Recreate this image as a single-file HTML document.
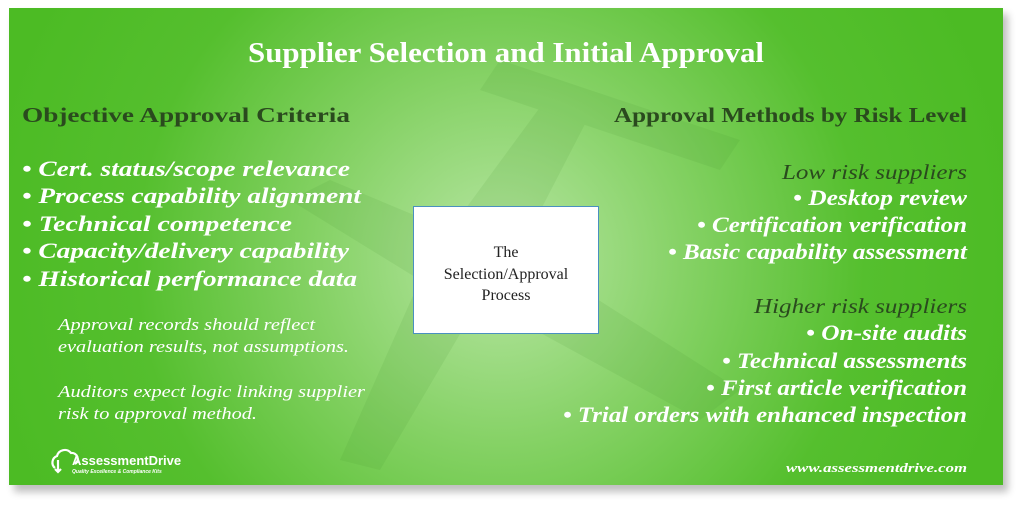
<!DOCTYPE html>
<html><head><meta charset="utf-8"><style>
html,body{margin:0;padding:0;background:#fff;width:1024px;height:506px;overflow:hidden}
</style></head><body>
<svg width="1024" height="506" viewBox="0 0 1024 506" xmlns="http://www.w3.org/2000/svg" font-family="Liberation Serif, serif">
<defs>
<radialGradient id="g" cx="500" cy="260" r="520" gradientUnits="userSpaceOnUse">
<stop offset="0" stop-color="#b8e6a4"/>
<stop offset="0.35" stop-color="#86d266"/>
<stop offset="0.7" stop-color="#55bf2e"/>
<stop offset="1" stop-color="#4cbb24"/>
</radialGradient>
<filter id="s" x="-5%" y="-5%" width="110%" height="115%"><feGaussianBlur stdDeviation="4"/></filter>
</defs>
<rect x="14" y="14" width="994" height="478" fill="#000" opacity="0.25" filter="url(#s)"/>
<rect x="9" y="8" width="994" height="477" fill="url(#g)"/>
<g fill="#3f8a2a" opacity="0.1">
<path d="M560 80 L600 95 L520 250 L740 390 L700 420 L480 300 L380 470 L340 460 L420 280 L290 200 L330 180 L450 230 Z"/>
<path d="M500 60 L740 140 L720 170 L480 90 Z"/>
</g>
<rect x="413.5" y="206.5" width="185" height="127" fill="#fff" stroke="#4a90c0" stroke-width="1"/>
<g font-size="16" fill="#222" text-anchor="middle">
<text x="506" y="257">The</text>
<text x="506" y="279">Selection/Approval</text>
<text x="506" y="300">Process</text>
</g>
<text x="248" y="62" textLength="516" lengthAdjust="spacingAndGlyphs" font-size="28" font-weight="bold" fill="#fff">Supplier Selection and Initial Approval</text>
<text x="22" y="122" textLength="328" lengthAdjust="spacingAndGlyphs" font-size="21" font-weight="bold" fill="#2a4a1e">Objective Approval Criteria</text>
<text x="614" y="122" textLength="353" lengthAdjust="spacingAndGlyphs" font-size="21" font-weight="bold" fill="#2a4a1e">Approval Methods by Risk Level</text>
<g font-size="22" font-weight="bold" font-style="italic" fill="#fff">
<text x="22" y="176" textLength="328" lengthAdjust="spacingAndGlyphs">• Cert. status/scope relevance</text>
<text x="22" y="203" textLength="339" lengthAdjust="spacingAndGlyphs">• Process capability alignment</text>
<text x="22" y="231" textLength="270" lengthAdjust="spacingAndGlyphs">• Technical competence</text>
<text x="22" y="258" textLength="327" lengthAdjust="spacingAndGlyphs">• Capacity/delivery capability</text>
<text x="22" y="286" textLength="335" lengthAdjust="spacingAndGlyphs">• Historical performance data</text>
</g>
<g font-size="17" font-style="italic" fill="#fff">
<text x="58" y="330" textLength="257" lengthAdjust="spacingAndGlyphs">Approval records should reflect</text>
<text x="58" y="352" textLength="291" lengthAdjust="spacingAndGlyphs">evaluation results, not assumptions.</text>
<text x="58" y="397" textLength="307" lengthAdjust="spacingAndGlyphs">Auditors expect logic linking supplier</text>
<text x="58" y="419" textLength="199" lengthAdjust="spacingAndGlyphs">risk to approval method.</text>
</g>
<text x="782" y="179" textLength="185" lengthAdjust="spacingAndGlyphs" font-size="21" font-style="italic" fill="#2a4a1e">Low risk suppliers</text>
<g font-size="22" font-weight="bold" font-style="italic" fill="#fff">
<text x="793" y="205" textLength="174" lengthAdjust="spacingAndGlyphs">• Desktop review</text>
<text x="697" y="232" textLength="270" lengthAdjust="spacingAndGlyphs">• Certification verification</text>
<text x="668" y="259" textLength="299" lengthAdjust="spacingAndGlyphs">• Basic capability assessment</text>
</g>
<text x="754" y="313" textLength="213" lengthAdjust="spacingAndGlyphs" font-size="21" font-style="italic" fill="#2a4a1e">Higher risk suppliers</text>
<g font-size="22" font-weight="bold" font-style="italic" fill="#fff">
<text x="806" y="340" textLength="161" lengthAdjust="spacingAndGlyphs">• On-site audits</text>
<text x="722" y="368" textLength="245" lengthAdjust="spacingAndGlyphs">• Technical assessments</text>
<text x="706" y="395" textLength="261" lengthAdjust="spacingAndGlyphs">• First article verification</text>
<text x="563" y="422" textLength="404" lengthAdjust="spacingAndGlyphs">• Trial orders with enhanced inspection</text>
</g>
<text x="786" y="472" textLength="181" lengthAdjust="spacingAndGlyphs" font-size="13" font-weight="bold" font-style="italic" fill="#fff">www.assessmentdrive.com</text>
<g fill="none" stroke="#fff" stroke-width="2.2">
<path d="M55 468 a7 7 0 0 1 2-12 a8 8 0 0 1 14-3 a6 6 0 0 1 4 11"/>
<path d="M58 460 v12 m-3-3 l3 3 l3-3"/>
</g>
<text x="72" y="465" font-family="Liberation Sans, sans-serif" font-size="13" font-weight="bold" fill="#fff">AssessmentDrive</text>
<text x="72" y="473" font-family="Liberation Sans, sans-serif" font-size="5" font-weight="bold" font-style="italic" fill="#fff">Quality Excellence &amp; Compliance Kits</text>
</svg>
</body></html>
